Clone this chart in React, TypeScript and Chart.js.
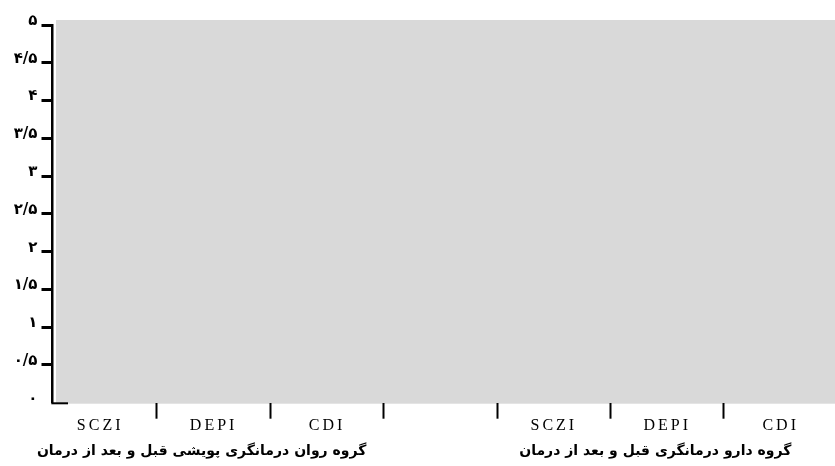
import React, { useEffect, useRef } from "react";
import { Chart, registerables } from "chart.js";

Chart.register(...registerables);

// ---- data ----
const categories = ["SCZI", "DEPI", "CDI", "", "SCZI", "DEPI", "CDI"];
const beforeValues: (number | null)[] = [0, 0, 0, null, 0, 0, 0];
const afterValues: (number | null)[] = [0, 0, 0, null, 0, 0, 0];
const yTickLabels = ["۰", "۰/۵", "۱", "۱/۵", "۲", "۲/۵", "۳", "۳/۵", "۴", "۴/۵", "۵"];
const groupTitles = [
  "گروه روان درمانگری پویشی قبل و بعد از درمان",
  "گروه دارو درمانگری قبل و بعد از درمان",
];
const groupCenterIndex = [1, 5];

const decorPlugin = {
  id: "decor",
  afterLayout(chart: any) {
    const xs = chart.scales.x;
    const area = chart.chartArea;
    xs.left = area.left - 9;
    xs.right = chart.width + 2.4;
    xs.configure();
    if (!xs.__wrapped) {
      const orig = xs.drawLabels.bind(xs);
      xs.drawLabels = (a: any) => {
        const ctx = chart.ctx;
        ctx.save();
        (ctx as any).letterSpacing = "3px";
        orig(a);
        ctx.restore();
      };
      xs.__wrapped = true;
    }
  },
  beforeDraw(chart: any) {
    const { ctx, chartArea } = chart;
    ctx.save();
    ctx.fillStyle = "#d9d9d9";
    ctx.fillRect(chartArea.left + 3.5, chartArea.top - 5, chart.width - chartArea.left, chartArea.bottom - chartArea.top + 6);
    ctx.restore();
  },
  afterDraw(chart: any) {
    const { ctx, chartArea } = chart;
    const xs = chart.scales.x;
    const ys = chart.scales.y;
    ctx.save();
    ctx.strokeStyle = "#000";
    ctx.lineWidth = 2;
    const y0 = ys.getPixelForValue(0) + 0.6;
    ctx.beginPath();
    ctx.moveTo(chartArea.left - 1.2, y0);
    ctx.lineTo(chartArea.left + 15.5, y0);
    ctx.stroke();

    ctx.fillStyle = "#000";
    ctx.font = 'bold 14px "DejaVu Sans"';
    ctx.textAlign = "center";
    ctx.textBaseline = "middle";
    (ctx as any).direction = "rtl";
    groupTitles.forEach((t, i) => {
      ctx.fillText(t, xs.getPixelForValue(groupCenterIndex[i]) - 12, chartArea.bottom + 49);
    });
    ctx.restore();
  },
};

export default function App() {
  const ref = useRef<HTMLCanvasElement>(null);
  useEffect(() => {
    if (!ref.current) return;
    const chart = new Chart(ref.current, {
      type: "bar",
      data: {
        labels: categories,
        datasets: [
          { label: "قبل", data: beforeValues, backgroundColor: "#000" },
          { label: "بعد", data: afterValues, backgroundColor: "#bfbfbf" },
        ],
      },
      options: {
        animation: false,
        responsive: false,
        devicePixelRatio: 1,
        layout: { padding: { top: 25, left: 0, right: 0, bottom: 0 } },
        plugins: { legend: { display: false }, tooltip: { enabled: false } },
        scales: {
          x: {
            type: "category",
            offset: true,
            grid: {
              offset: true,
              drawOnChartArea: false,
              tickLength: 16,
              tickWidth: 2,
              color: (c: any) => (c.index === 0 ? "rgba(0,0,0,0)" : "#000"),
            },
            border: { display: false },
            ticks: {
              color: "#000",
              font: { family: "Liberation Serif", size: 16 },
              padding: -3,
              maxRotation: 0,
              autoSkip: false,
            },
            afterFit: (s: any) => {
              s.height = 63.3;
            },
          },
          y: {
            min: 0,
            max: 5,
            ticks: {
              stepSize: 0.5,
              color: "#000",
              font: { family: "DejaVu Sans", size: 15, weight: "bold" },
              padding: 4,
              labelOffset: -4,
              callback: (v: any) => yTickLabels[Math.round(Number(v) * 2)],
            },
            grid: {
              drawOnChartArea: false,
              tickLength: 11,
              tickWidth: 3,
              color: (c: any) => (c.index === 0 ? "rgba(0,0,0,0)" : "#000"),
            },
            border: { display: true, color: "#000", width: 2.5 },
            afterFit: (s: any) => {
              s.width = 52.5;
            },
          },
        },
      },
      plugins: [decorPlugin],
    } as any);
    return () => chart.destroy();
  }, []);
  return (
    <div style={{ position: "absolute", left: 0, top: 0, width: 835, height: 466, background: "#fff" }}>
      <canvas ref={ref} width={835} height={466} style={{ display: "block" }} />
    </div>
  );
}
